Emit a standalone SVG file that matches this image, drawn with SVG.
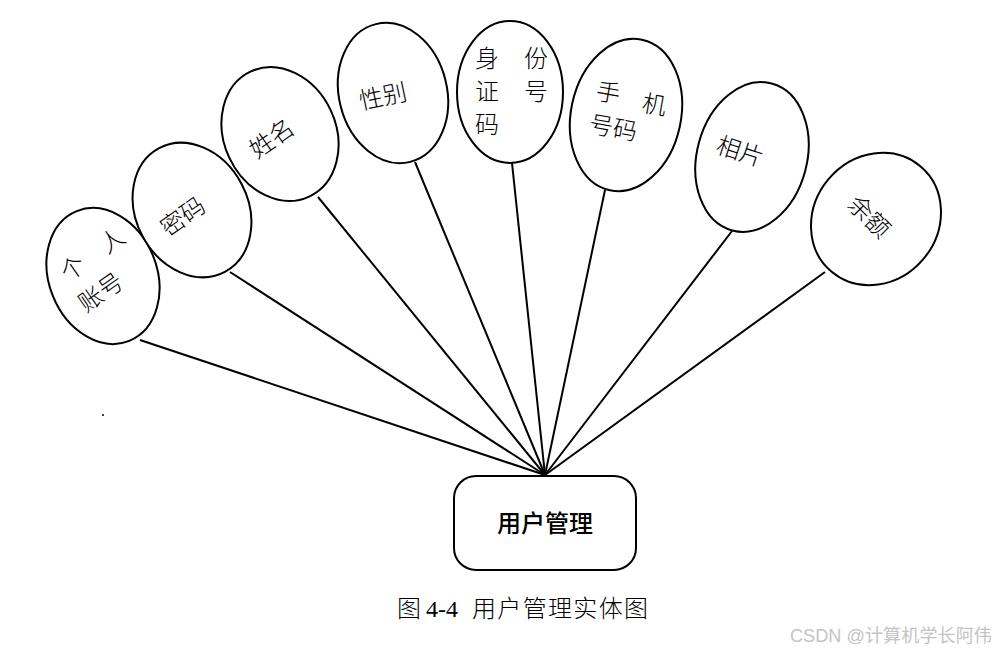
<svg xmlns="http://www.w3.org/2000/svg" width="996" height="650" viewBox="0 0 996 650">
<style>
.e{fill:#fff;stroke:#000;stroke-width:2}
.t{font-family:"Liberation Sans","Noto Sans CJK SC",sans-serif;font-size:24px;font-weight:300;fill:#000}
.c line{stroke:#000;stroke-width:2}
</style>
<rect width="996" height="650" fill="#fff"/>
<g class="c" id="connectors">
<line x1="140" y1="340" x2="545" y2="475"/>
<line x1="230" y1="272" x2="545" y2="475"/>
<line x1="318" y1="197" x2="545" y2="475"/>
<line x1="415" y1="162" x2="545" y2="475"/>
<line x1="512" y1="163" x2="545" y2="475"/>
<line x1="605" y1="190" x2="545" y2="475"/>
<line x1="732" y1="231" x2="545" y2="475"/>
<line x1="825" y1="272" x2="545" y2="475"/>
</g>
<g id="n1">
<ellipse class="e" cx="103" cy="276" rx="54" ry="70" transform="rotate(-22 103 276)"/>
<text class="t" transform="translate(68,282) rotate(-35)">个　人</text>
<text class="t" transform="translate(86,313) rotate(-35)">账号</text>
</g>
<g id="n2">
<ellipse class="e" cx="192" cy="210" rx="56" ry="70" transform="rotate(-28 192 210)"/>
<text class="t" text-anchor="middle" transform="translate(183,217) rotate(-35)" dy="8">密码</text>
</g>
<g id="n3">
<ellipse class="e" cx="280" cy="134" rx="56" ry="69" transform="rotate(-25 280 134)"/>
<text class="t" text-anchor="middle" transform="translate(272,139) rotate(-35)" dy="8">姓名</text>
</g>
<g id="n4">
<ellipse class="e" cx="393" cy="93" rx="54" ry="71" transform="rotate(-14 393 93)"/>
<text class="t" text-anchor="middle" transform="translate(383,97) rotate(-12)" dy="8">性别</text>
</g>
<g id="n5">
<ellipse class="e" cx="510" cy="92" rx="53" ry="71"/>
<text class="t" x="475" y="67">身</text>
<text class="t" x="524" y="67">份</text>
<text class="t" x="475" y="100">证</text>
<text class="t" x="524" y="100">号</text>
<text class="t" x="475" y="133">码</text>
</g>
<g id="n6">
<ellipse class="e" cx="626" cy="115" rx="55" ry="77" transform="rotate(12 626 115)"/>
<text class="t" transform="translate(595,99) rotate(10)">手</text>
<text class="t" transform="translate(641,111) rotate(10)">机</text>
<text class="t" transform="translate(588,132) rotate(10)">号码</text>
</g>
<g id="n7">
<ellipse class="e" cx="752" cy="157" rx="55" ry="76" transform="rotate(15 752 157)"/>
<text class="t" text-anchor="middle" transform="translate(740,152) rotate(18)" dy="8">相片</text>
</g>
<g id="n8">
<ellipse class="e" cx="876" cy="219" rx="62" ry="69" transform="rotate(40 876 219)"/>
<text class="t" text-anchor="middle" transform="translate(869,217) rotate(45)" dy="8">余额</text>
</g>
<g id="entity">
<rect x="454" y="476" width="182" height="94" rx="22" fill="#fff" stroke="#000" stroke-width="2"/>
<text x="545" y="532" text-anchor="middle" font-family="'Noto Sans CJK SC',sans-serif" font-size="24" font-weight="500">用户管理</text>
</g>
<circle cx="103" cy="415" r="1" fill="#000"/>
<g font-family="'Liberation Serif','Noto Sans CJK SC',serif" font-size="24" font-weight="300">
<text x="397" y="617">图</text>
<text x="426" y="617">4-4</text>
<text x="472" y="617" textLength="176" lengthAdjust="spacing">用户管理实体图</text>
</g>
<text x="790" y="642" textLength="202" lengthAdjust="spacingAndGlyphs" font-family="'Liberation Sans','Noto Sans CJK SC',sans-serif" font-size="18.5" fill="#c4c4c4">CSDN @计算机学长阿伟</text>
</svg>
